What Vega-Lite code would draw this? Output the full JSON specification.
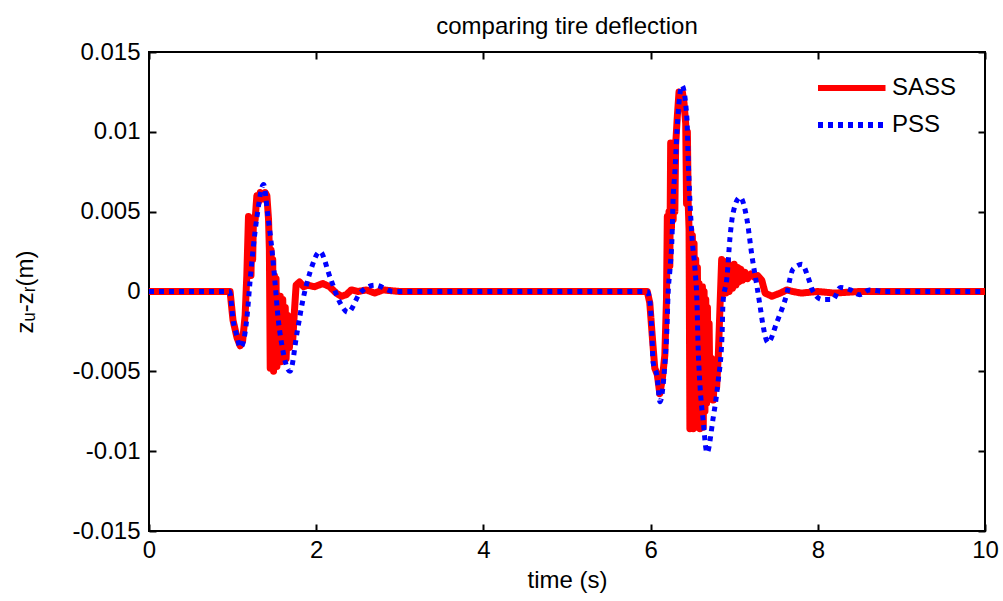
{
  "$schema": "https://vega.github.io/schema/vega-lite/v6.json",
  "width": 836,
  "height": 479,
  "autosize": {"type": "none"},
  "padding": {"left": 149, "top": 52, "right": 18, "bottom": 70},
  "background": "white",
  "title": {"text": "comparing tire deflection", "fontSize": 24, "font": "Liberation Sans", "fontWeight": "normal", "color": "black", "offset": 1},
  "config": {
    "view": {"stroke": "black", "strokeWidth": 2},
    "axis": {"domain": false, "grid": false, "labelFlush": false, "tickColor": "black", "tickWidth": 2, "tickSize": -7, "labelFont": "Liberation Sans", "labelFontSize": 24, "labelColor": "black", "titleFont": "Liberation Sans", "titleFontSize": 24, "titleFontWeight": "normal", "titleColor": "black"},
    "legend": {"padding": 0}
  },
  "data": {"values": [
    {"s":"PSS","t":0,"v":0},{"s":"PSS","t":0.5,"v":0},{"s":"PSS","t":0.96,"v":0},{"s":"PSS","t":0.97,"v":-0.0001},{"s":"PSS","t":1.005,"v":-0.00175},{"s":"PSS","t":1.053,"v":-0.0028},{"s":"PSS","t":1.089,"v":-0.0035},{"s":"PSS","t":1.12,"v":-0.0033},{"s":"PSS","t":1.172,"v":-0.0016},{"s":"PSS","t":1.208,"v":0.0006},{"s":"PSS","t":1.244,"v":0.0026},{"s":"PSS","t":1.292,"v":0.0047},{"s":"PSS","t":1.37,"v":0.0067},{"s":"PSS","t":1.423,"v":0.0047},{"s":"PSS","t":1.471,"v":0.0026},{"s":"PSS","t":1.507,"v":0.0006},{"s":"PSS","t":1.543,"v":-0.0016},{"s":"PSS","t":1.591,"v":-0.0034},{"s":"PSS","t":1.687,"v":-0.005},{"s":"PSS","t":1.77,"v":-0.0026},{"s":"PSS","t":1.842,"v":-0.0005},{"s":"PSS","t":1.926,"v":0.0012},{"s":"PSS","t":2.045,"v":0.0025},{"s":"PSS","t":2.165,"v":0.0009},{"s":"PSS","t":2.285,"v":-0.0007},{"s":"PSS","t":2.38,"v":-0.0013},{"s":"PSS","t":2.524,"v":-0.0001},{"s":"PSS","t":2.703,"v":0.0004},{"s":"PSS","t":2.92,"v":0},{"s":"PSS","t":3.5,"v":0},{"s":"PSS","t":4.5,"v":0},{"s":"PSS","t":5.96,"v":0},{"s":"PSS","t":5.993,"v":-0.0007},{"s":"PSS","t":6.017,"v":-0.0028},{"s":"PSS","t":6.029,"v":-0.0044},{"s":"PSS","t":6.077,"v":-0.0053},{"s":"PSS","t":6.112,"v":-0.0069},{"s":"PSS","t":6.172,"v":-0.0044},{"s":"PSS","t":6.196,"v":-0.0022},{"s":"PSS","t":6.208,"v":-0.0003},{"s":"PSS","t":6.232,"v":0.0014},{"s":"PSS","t":6.256,"v":0.0034},{"s":"PSS","t":6.268,"v":0.0056},{"s":"PSS","t":6.292,"v":0.0076},{"s":"PSS","t":6.316,"v":0.0101},{"s":"PSS","t":6.376,"v":0.0129},{"s":"PSS","t":6.435,"v":0.0108},{"s":"PSS","t":6.447,"v":0.0087},{"s":"PSS","t":6.471,"v":0.0056},{"s":"PSS","t":6.495,"v":0.0034},{"s":"PSS","t":6.531,"v":0.0014},{"s":"PSS","t":6.555,"v":-0.0007},{"s":"PSS","t":6.567,"v":-0.0032},{"s":"PSS","t":6.591,"v":-0.0059},{"s":"PSS","t":6.627,"v":-0.008},{"s":"PSS","t":6.675,"v":-0.0101},{"s":"PSS","t":6.746,"v":-0.008},{"s":"PSS","t":6.806,"v":-0.0057},{"s":"PSS","t":6.854,"v":-0.0028},{"s":"PSS","t":6.866,"v":-0.0007},{"s":"PSS","t":6.914,"v":0.0009},{"s":"PSS","t":6.95,"v":0.0034},{"s":"PSS","t":6.986,"v":0.0049},{"s":"PSS","t":7.07,"v":0.0059},{"s":"PSS","t":7.153,"v":0.0045},{"s":"PSS","t":7.213,"v":0.0022},{"s":"PSS","t":7.273,"v":0.0003},{"s":"PSS","t":7.309,"v":-0.0009},{"s":"PSS","t":7.344,"v":-0.0021},{"s":"PSS","t":7.404,"v":-0.0032},{"s":"PSS","t":7.512,"v":-0.0019},{"s":"PSS","t":7.584,"v":-0.0009},{"s":"PSS","t":7.632,"v":-0.0001},{"s":"PSS","t":7.667,"v":0.0008},{"s":"PSS","t":7.703,"v":0.0014},{"s":"PSS","t":7.811,"v":0.0017},{"s":"PSS","t":7.883,"v":0.0009},{"s":"PSS","t":7.943,"v":0},{"s":"PSS","t":8.05,"v":-0.0005},{"s":"PSS","t":8.18,"v":-0.0005},{"s":"PSS","t":8.27,"v":0.00025},{"s":"PSS","t":8.39,"v":0.0001},{"s":"PSS","t":8.5,"v":-0.0002},{"s":"PSS","t":8.62,"v":0.0001},{"s":"PSS","t":8.8,"v":0},{"s":"PSS","t":9.4,"v":0},{"s":"PSS","t":10,"v":0},
    {"s":"SASS","t":0,"v":0},{"s":"SASS","t":0.97,"v":0},{"s":"SASS","t":1.005,"v":-0.0018},{"s":"SASS","t":1.053,"v":-0.0029},{"s":"SASS","t":1.09,"v":-0.0034},{"s":"SASS","t":1.12,"v":-0.0031},{"s":"SASS","t":1.15,"v":-0.0015},{"s":"SASS","t":1.17,"v":0.001},{"s":"SASS","t":1.19,"v":0.0047},{"s":"SASS","t":1.2,"v":0.0015},{"s":"SASS","t":1.21,"v":0.0046},{"s":"SASS","t":1.22,"v":0.001},{"s":"SASS","t":1.23,"v":0.0045},{"s":"SASS","t":1.24,"v":0.002},{"s":"SASS","t":1.25,"v":0.0046},{"s":"SASS","t":1.27,"v":0.0045},{"s":"SASS","t":1.29,"v":0.006},{"s":"SASS","t":1.31,"v":0.0056},{"s":"SASS","t":1.33,"v":0.0062},{"s":"SASS","t":1.36,"v":0.0058},{"s":"SASS","t":1.39,"v":0.0062},{"s":"SASS","t":1.41,"v":0.006},{"s":"SASS","t":1.43,"v":0.0045},{"s":"SASS","t":1.44,"v":0.0026},{"s":"SASS","t":1.45,"v":-0.0048},{"s":"SASS","t":1.46,"v":0.0026},{"s":"SASS","t":1.47,"v":-0.0045},{"s":"SASS","t":1.48,"v":0.002},{"s":"SASS","t":1.49,"v":-0.005},{"s":"SASS","t":1.5,"v":0.001},{"s":"SASS","t":1.51,"v":-0.004},{"s":"SASS","t":1.52,"v":0.0008},{"s":"SASS","t":1.53,"v":-0.0047},{"s":"SASS","t":1.54,"v":-0.0005},{"s":"SASS","t":1.55,"v":-0.0042},{"s":"SASS","t":1.57,"v":-0.0003},{"s":"SASS","t":1.58,"v":-0.0044},{"s":"SASS","t":1.6,"v":-0.0005},{"s":"SASS","t":1.61,"v":-0.004},{"s":"SASS","t":1.63,"v":-0.001},{"s":"SASS","t":1.64,"v":-0.0042},{"s":"SASS","t":1.66,"v":-0.0015},{"s":"SASS","t":1.68,"v":-0.0035},{"s":"SASS","t":1.7,"v":-0.002},{"s":"SASS","t":1.72,"v":-0.003},{"s":"SASS","t":1.74,"v":-0.0012},{"s":"SASS","t":1.76,"v":0.0004},{"s":"SASS","t":1.8,"v":0.0006},{"s":"SASS","t":1.85,"v":0.0003},{"s":"SASS","t":1.9,"v":0.0004},{"s":"SASS","t":1.98,"v":0.0003},{"s":"SASS","t":2.08,"v":0.0005},{"s":"SASS","t":2.16,"v":0.0003},{"s":"SASS","t":2.24,"v":-0.0001},{"s":"SASS","t":2.3,"v":-0.0003},{"s":"SASS","t":2.36,"v":-0.0002},{"s":"SASS","t":2.42,"v":0.0001},{"s":"SASS","t":2.5,"v":0},{"s":"SASS","t":2.6,"v":0.0001},{"s":"SASS","t":2.7,"v":-0.0001},{"s":"SASS","t":2.8,"v":0.0001},{"s":"SASS","t":3,"v":0},{"s":"SASS","t":5.96,"v":0},{"s":"SASS","t":5.99,"v":-0.0007},{"s":"SASS","t":6.02,"v":-0.0028},{"s":"SASS","t":6.05,"v":-0.0048},{"s":"SASS","t":6.08,"v":-0.0052},{"s":"SASS","t":6.11,"v":-0.0064},{"s":"SASS","t":6.14,"v":-0.0055},{"s":"SASS","t":6.17,"v":-0.004},{"s":"SASS","t":6.19,"v":-0.0005},{"s":"SASS","t":6.2,"v":0.0047},{"s":"SASS","t":6.21,"v":0.0014},{"s":"SASS","t":6.22,"v":0.005},{"s":"SASS","t":6.23,"v":0.0016},{"s":"SASS","t":6.24,"v":0.0093},{"s":"SASS","t":6.25,"v":0.004},{"s":"SASS","t":6.26,"v":0.0092},{"s":"SASS","t":6.27,"v":0.0045},{"s":"SASS","t":6.28,"v":0.0093},{"s":"SASS","t":6.29,"v":0.005},{"s":"SASS","t":6.3,"v":0.0092},{"s":"SASS","t":6.32,"v":0.011},{"s":"SASS","t":6.34,"v":0.0125},{"s":"SASS","t":6.36,"v":0.0124},{"s":"SASS","t":6.38,"v":0.0125},{"s":"SASS","t":6.4,"v":0.0118},{"s":"SASS","t":6.42,"v":0.0105},{"s":"SASS","t":6.43,"v":0.0055},{"s":"SASS","t":6.44,"v":0.01},{"s":"SASS","t":6.45,"v":0.0055},{"s":"SASS","t":6.46,"v":0.0039},{"s":"SASS","t":6.47,"v":-0.0086},{"s":"SASS","t":6.48,"v":0.0039},{"s":"SASS","t":6.49,"v":-0.0084},{"s":"SASS","t":6.5,"v":0.0035},{"s":"SASS","t":6.51,"v":-0.0086},{"s":"SASS","t":6.52,"v":0.003},{"s":"SASS","t":6.53,"v":-0.008},{"s":"SASS","t":6.54,"v":0.002},{"s":"SASS","t":6.55,"v":-0.0085},{"s":"SASS","t":6.56,"v":0.0015},{"s":"SASS","t":6.57,"v":-0.0082},{"s":"SASS","t":6.58,"v":0.0005},{"s":"SASS","t":6.59,"v":-0.0086},{"s":"SASS","t":6.6,"v":0.0003},{"s":"SASS","t":6.61,"v":-0.008},{"s":"SASS","t":6.62,"v":0.0003},{"s":"SASS","t":6.63,"v":-0.0085},{"s":"SASS","t":6.64,"v":0},{"s":"SASS","t":6.65,"v":-0.0075},{"s":"SASS","t":6.66,"v":-0.0005},{"s":"SASS","t":6.67,"v":-0.007},{"s":"SASS","t":6.68,"v":-0.001},{"s":"SASS","t":6.69,"v":-0.0068},{"s":"SASS","t":6.7,"v":-0.002},{"s":"SASS","t":6.71,"v":-0.0065},{"s":"SASS","t":6.73,"v":-0.0042},{"s":"SASS","t":6.75,"v":-0.0068},{"s":"SASS","t":6.77,"v":-0.0044},{"s":"SASS","t":6.79,"v":-0.006},{"s":"SASS","t":6.81,"v":-0.004},{"s":"SASS","t":6.83,"v":-0.001},{"s":"SASS","t":6.85,"v":0.002},{"s":"SASS","t":6.86,"v":-0.0002},{"s":"SASS","t":6.88,"v":0.0018},{"s":"SASS","t":6.9,"v":-0.0001},{"s":"SASS","t":6.92,"v":0.0019},{"s":"SASS","t":6.94,"v":0},{"s":"SASS","t":6.96,"v":0.0016},{"s":"SASS","t":6.98,"v":0.0002},{"s":"SASS","t":7,"v":0.0017},{"s":"SASS","t":7.02,"v":0.0004},{"s":"SASS","t":7.04,"v":0.0015},{"s":"SASS","t":7.06,"v":0.0006},{"s":"SASS","t":7.08,"v":0.0014},{"s":"SASS","t":7.1,"v":0.0007},{"s":"SASS","t":7.13,"v":0.0012},{"s":"SASS","t":7.16,"v":0.0008},{"s":"SASS","t":7.2,"v":0.0011},{"s":"SASS","t":7.24,"v":0.0009},{"s":"SASS","t":7.28,"v":0.001},{"s":"SASS","t":7.33,"v":0.0007},{"s":"SASS","t":7.37,"v":-0.0001},{"s":"SASS","t":7.41,"v":-0.0002},{"s":"SASS","t":7.45,"v":-0.0003},{"s":"SASS","t":7.5,"v":-0.0002},{"s":"SASS","t":7.55,"v":-0.0001},{"s":"SASS","t":7.63,"v":0.0001},{"s":"SASS","t":7.7,"v":0},{"s":"SASS","t":7.8,"v":-0.0001},{"s":"SASS","t":8,"v":0},{"s":"SASS","t":8.2,"v":-0.0001},{"s":"SASS","t":8.5,"v":0},{"s":"SASS","t":10,"v":0}
  ]},
  "layer": [
    {
      "transform": [{"filter": "datum.s == 'SASS'"}],
      "mark": {"type": "line", "strokeWidth": 7, "interpolate": "linear", "strokeJoin": "round", "clip": true},
      "encoding": {
        "x": {"field": "t", "type": "quantitative", "scale": {"domain": [0, 10], "nice": false, "zero": false}, "axis": {"orient": "bottom", "values": [0, 2, 4, 6, 8, 10], "title": "time (s)", "labelPadding": 14, "titlePadding": 6}},
        "y": {"field": "v", "type": "quantitative", "scale": {"domain": [-0.015, 0.015], "nice": false, "zero": false}, "axis": {"orient": "left", "values": [-0.015, -0.01, -0.005, 0, 0.005, 0.01, 0.015], "labelExpr": "'' + datum.value", "title": "zᵤ-zᵣ(m)", "labelPadding": 16, "titlePadding": 34}},
        "color": {"field": "s", "type": "nominal", "scale": {"domain": ["SASS", "PSS"], "range": ["#ff0000", "#0000ff"]}, "legend": {"title": null, "orient": "none", "legendX": 666, "legendY": 18, "symbolType": "M-1,0H3.5", "symbolSize": 900, "symbolStrokeWidth": 6, "labelFont": "Liberation Sans", "labelFontSize": 24, "labelColor": "black", "rowPadding": 7, "labelOffset": 41}},
        "strokeDash": {"field": "s", "type": "nominal", "scale": {"domain": ["SASS", "PSS"], "range": [[1, 0], [5, 5]]}, "legend": {"title": null, "orient": "none", "legendX": 666, "legendY": 18, "symbolType": "M-1,0H3.5", "symbolSize": 900, "symbolStrokeWidth": 6, "labelFont": "Liberation Sans", "labelFontSize": 24, "labelColor": "black", "rowPadding": 7, "labelOffset": 41}}
      }
    },
    {
      "transform": [{"filter": "datum.s == 'PSS'"}],
      "mark": {"type": "line", "strokeWidth": 5, "interpolate": "monotone", "clip": true},
      "encoding": {
        "x": {"field": "t", "type": "quantitative", "axis": null},
        "y": {"field": "v", "type": "quantitative", "axis": null},
        "color": {"field": "s", "type": "nominal"},
        "strokeDash": {"field": "s", "type": "nominal"}
      }
    },
    {
      "transform": [{"filter": "datum.s == 'PSS'"}],
      "mark": {"type": "line", "opacity": 0},
      "encoding": {
        "x": {"field": "t", "type": "quantitative", "axis": {"orient": "top", "values": [0, 2, 4, 6, 8, 10], "labels": false, "title": null}},
        "y": {"field": "v", "type": "quantitative", "axis": {"orient": "right", "values": [-0.015, -0.01, -0.005, 0, 0.005, 0.01, 0.015], "labels": false, "title": null}}
      }
    }
  ],
  "resolve": {"axis": {"x": "independent", "y": "independent"}}
}
